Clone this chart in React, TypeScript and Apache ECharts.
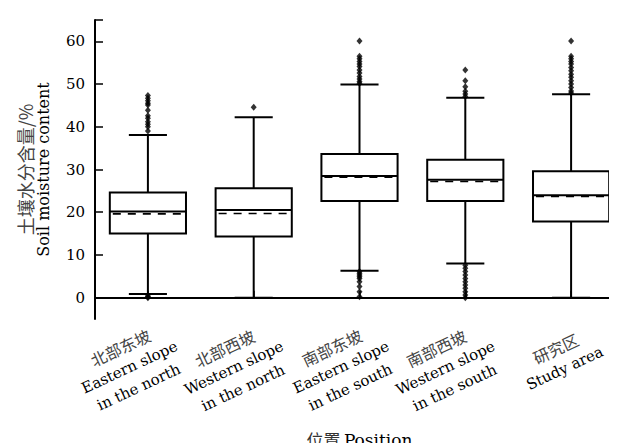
import React, { useEffect, useRef } from "react";
import * as echarts from "echarts";

// Categories (Chinese line + English lines)
const categoriesCn = ["北部东坡", "北部西坡", "南部东坡", "南部西坡", "研究区"];
const categoriesEn = [
  "Eastern slope\nin the north",
  "Western slope\nin the north",
  "Eastern slope\nin the south",
  "Western slope\nin the south",
  "Study area",
];

// Box statistics (soil moisture content, %)
const lowerWhisker = [0.85, 0.0, 6.3, 8.0, 0.0];
const q1 = [15.0, 14.3, 22.6, 22.6, 17.8];
const median = [20.15, 20.5, 28.5, 27.6, 24.0];
const q3 = [24.6, 25.6, 33.6, 32.3, 29.6];
const upperWhisker = [38.1, 42.25, 49.9, 46.8, 47.6];
const meanValues = [19.6, 19.7, 28.2, 27.2, 23.7];

// Outliers per category
const outliersNE = [47.3, 46.7, 46.1, 45.5, 45.1, 43.9, 42.6, 42.0, 41.2, 40.6, 40.0, 39.0, 0.0, 0.2, 0.4];
const outliersNW = [44.6];
const outliersSE = [60.1, 56.5, 55.9, 55.3, 54.7, 54.1, 53.3, 52.6, 51.8, 51.2, 50.6, 50.2,
  6.1, 5.7, 5.3, 4.9, 4.5, 3.75, 2.6, 1.4, 0.2];
const outliersSW = [53.3, 50.8, 49.4, 48.3, 47.7, 47.1,
  7.6, 6.9, 6.1, 5.3, 4.5, 3.75, 2.95, 2.2, 1.4, 0.6, 0.0];
const outliersAll = [60.1, 56.5, 55.9, 55.3, 54.7, 53.9, 53.1, 52.3, 51.6, 50.8, 50.0, 49.2, 48.4, 47.9];

// Axis ticks
const yTickValues = [0, 10, 20, 30, 40, 50, 60, 65];
const yLabelValues = [0, 10, 20, 30, 40, 50, 60];

const outlierGroups = [outliersNE, outliersNW, outliersSE, outliersSW, outliersAll];

const W = 617;
const H = 443;
const GRID = { left: 87, right: 1, top: 12, bottom: 132 };

export default function App() {
  const ref = useRef<HTMLDivElement>(null);
  const labelRef = useRef<HTMLDivElement>(null);

  useEffect(() => {
    if (!ref.current || !labelRef.current) return;
    const chart = echarts.init(ref.current, null, { renderer: "svg" });

    const boxData = categoriesCn.map((_, i) => [
      i,
      lowerWhisker[i],
      q1[i],
      median[i],
      q3[i],
      upperWhisker[i],
      meanValues[i],
    ]);

    const outlierData: number[][] = [];
    outlierGroups.forEach((g, i) => g.forEach((v) => outlierData.push([i, v])));

    const serif = "DejaVu Serif";
    const cjk = "Noto Sans CJK SC";

    const renderBox = (params: any, api: any) => {
      const idx = api.value(0);
      const pLow = api.coord([idx, api.value(1)]);
      const pQ1 = api.coord([idx, api.value(2)]);
      const pMed = api.coord([idx, api.value(3)]);
      const pQ3 = api.coord([idx, api.value(4)]);
      const pHigh = api.coord([idx, api.value(5)]);
      const pMean = api.coord([idx, api.value(6)]);
      const band = api.size([1, 0])[0];
      const boxW = band * 0.72;
      const capW = boxW / 2;
      const cx = pMed[0];
      const stroke = { stroke: "#000", lineWidth: 2, fill: null };
      return {
        type: "group",
        children: [
          { type: "line", shape: { x1: cx, y1: pHigh[1], x2: cx, y2: pQ3[1] }, style: stroke },
          { type: "line", shape: { x1: cx, y1: pQ1[1], x2: cx, y2: pLow[1] }, style: stroke },
          { type: "line", shape: { x1: cx - capW / 2, y1: pHigh[1], x2: cx + capW / 2, y2: pHigh[1] }, style: stroke },
          { type: "line", shape: { x1: cx - capW / 2, y1: pLow[1], x2: cx + capW / 2, y2: pLow[1] }, style: stroke },
          {
            type: "rect",
            shape: { x: cx - boxW / 2, y: pQ3[1], width: boxW, height: pQ1[1] - pQ3[1] },
            style: { fill: "#fff", stroke: "#000", lineWidth: 2 },
          },
          { type: "line", shape: { x1: cx - boxW / 2, y1: pMed[1], x2: cx + boxW / 2, y2: pMed[1] }, style: stroke },
          {
            type: "line",
            shape: { x1: cx - boxW / 2 + 3, y1: pMean[1], x2: cx + boxW / 2, y2: pMean[1] },
            style: { stroke: "#000", lineWidth: 1.6, lineDash: [8, 7], fill: null },
          },
        ],
      };
    };

    const stub = {
      type: "rect",
      right: 0.5,
      bottom: GRID.bottom,
      shape: { width: 1.5, height: 8 },
      style: { fill: "#000" },
    };

    chart.setOption({
      animation: false,
      backgroundColor: "#fff",
      grid: { ...GRID, containLabel: false, outerBoundsMode: "none" },
      xAxis: {
        type: "category",
        data: categoriesCn.map((c, i) => c + "\n" + categoriesEn[i]),
        boundaryGap: true,
        name: "{cn|位置} {en|Position}",
        nameLocation: "middle",
        nameGap: 112,
        nameTextStyle: {
          rich: {
            cn: { fontFamily: cjk, fontSize: 17, color: "#333" },
            en: { fontFamily: serif, fontSize: 17, color: "#000" },
          },
        },
        axisLine: { lineStyle: { color: "#000", width: 2 } },
        axisTick: { show: true, alignWithLabel: true, inside: true, length: 7, lineStyle: { color: "#000", width: 1.5 } },
        axisLabel: { show: false, interval: 0 },
        splitLine: { show: false },
      },
      yAxis: {
        type: "value",
        min: -5,
        max: 65,
        name: "{cn|土壤水分含量/%}\n{en|Soil moisture content}",
        nameLocation: "middle",
        nameRotate: 90,
        nameGap: 42,
        nameTextStyle: {
          rich: {
            cn: { fontFamily: cjk, fontSize: 18, color: "#444", lineHeight: 19, align: "center" },
            en: { fontFamily: serif, fontSize: 16, color: "#000", lineHeight: 19, align: "center" },
          },
        },
        axisLine: { show: true, lineStyle: { color: "#000", width: 2 } },
        axisTick: {
          show: true,
          inside: true,
          length: 8,
          customValues: yTickValues,
          lineStyle: { color: "#000", width: 1.5 },
        },
        axisLabel: {
          customValues: yLabelValues,
          margin: 10,
          fontFamily: serif,
          fontSize: 15,
          color: "#000",
        },
        splitLine: { show: false },
      },
      graphic: [stub],
      series: [
        {
          type: "custom",
          name: "box",
          renderItem: renderBox,
          encode: { x: 0, y: [1, 2, 3, 4, 5, 6] },
          data: boxData,
          z: 2,
        },
        {
          type: "scatter",
          name: "outliers",
          symbol: "diamond",
          symbolSize: [6, 7],
          itemStyle: { color: "#000" },
          data: outlierData,
          z: 3,
        },
      ],
    });

    // Rotated category labels, positioned from the main chart's category axis,
    // drawn in a transparent overlay chart (one single-line text per line).
    const canvas = document.createElement("canvas");
    const ctx = canvas.getContext("2d");
    const measure = (t: string, font: string) => {
      if (!ctx) return t.length * 8;
      ctx.font = font;
      return ctx.measureText(t).width;
    };
    const axisBottom = chart.convertToPixel({ yAxisIndex: 0 }, -5) as number;
    const rot = (25 * Math.PI) / 180;
    const cos = Math.cos(rot);
    const sin = Math.sin(rot);
    const lineH = 22;
    const rightU = 15;
    const labels: any[] = [];
    categoriesCn.forEach((cn, i) => {
      const tickX = chart.convertToPixel({ xAxisIndex: 0 }, i) as number;
      const lines = [cn, ...categoriesEn[i].split("\n")];
      const sizes = lines.map((_, k) => (k === 0 ? 16 : 15));
      const fams = lines.map((_, k) => (k === 0 ? cjk : serif));
      const widths = lines.map((l, k) => measure(l, `${sizes[k]}px "${fams[k]}"`));
      const blockW = Math.max(...widths);
      const cu = rightU - blockW / 2;
      const n = lines.length;
      const vCenter = n >= 3 ? 36 : 31;
      lines.forEach((l, k) => {
        const vMid = vCenter + (k - (n - 1) / 2) * lineH;
        const uL = cu - widths[k] / 2;
        const vT = vMid - sizes[k] / 2;
        const dx = uL * cos + vT * sin;
        const dy = -uL * sin + vT * cos;
        labels.push({
          type: "text",
          x: tickX + dx,
          y: axisBottom + dy,
          rotation: rot,
          style: {
            text: l,
            fontFamily: fams[k],
            fontSize: sizes[k],
            fill: k === 0 ? "#444" : "#000",
          },
        });
      });
    });

    const overlay = echarts.init(labelRef.current, null, { renderer: "svg" });
    overlay.setOption({
      animation: false,
      backgroundColor: "transparent",
      graphic: labels,
    });

    return () => {
      overlay.dispose();
      chart.dispose();
    };
  }, []);

  return (
    <div style={{ position: "relative", width: W, height: H }}>
      <div ref={ref} style={{ width: W, height: H, position: "absolute", left: 0, top: 0 }} />
      <div
        ref={labelRef}
        style={{ width: W, height: H, position: "absolute", left: 0, top: 0, pointerEvents: "none" }}
      />
    </div>
  );
}
